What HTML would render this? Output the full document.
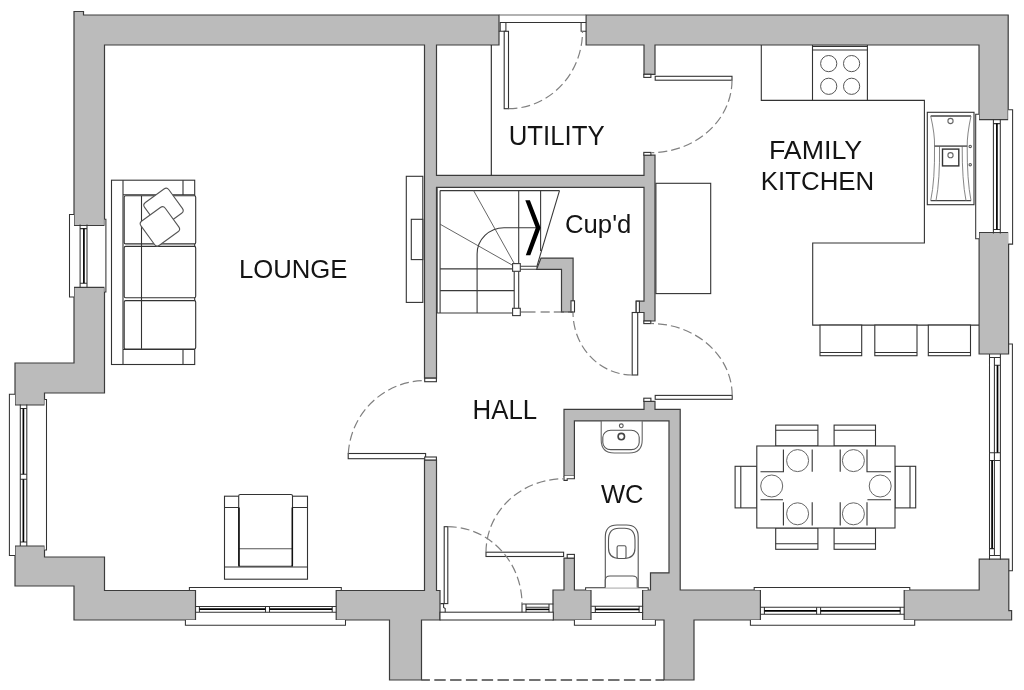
<!DOCTYPE html>
<html><head><meta charset="utf-8">
<style>
html,body{margin:0;padding:0;background:#fff;width:1024px;height:690px;overflow:hidden}
svg{display:block}
text{font-family:"Liberation Sans",sans-serif;font-size:26px;fill:#141414}
</style></head><body>
<svg width="1024" height="690" viewBox="0 0 1024 690">
<path fill="#bbbbbb" stroke="#3c3c3c" stroke-width="1.2" stroke-linejoin="miter" d="M74,45 L74,225.5 L104.5,225.5 L104.5,45 L424.5,45 L424.5,378.2 L436.5,378.2 L436.5,187.3 L644,187.3 L644,301.2 L636.2,301.2 L636.2,312.5 L644,312.5 L644,321 L655,321 L655,187.3 L655,175.3 L655,155.2 L644,155.2 L644,175.3 L436.5,175.3 L436.5,45 L499,45 L499,15 L104.5,15 L83.5,15 L83.5,11.5 L74,11.5 L74,15 L74,21 Z M573.1,258.1 L541,258.1 L536.6,269.3 L561.5,269.3 L561.5,312 L573.1,312 Z M15,363 L15,393 L15,405 L44.5,405 L44.5,393 L74,393 L104.5,393 L104.5,363 L104.5,287.3 L74,287.3 L74,363 L44.5,363 Z M564,409.3 L564,420.8 L564,476 L574.4,476 L574.4,420.8 L669,420.8 L669,572.8 L650.5,572.8 L650.5,590 L642.6,590 L642.6,620 L664,620 L664,680 L694,680 L694,620 L760.4,620 L760.4,590 L680.2,590 L680.2,572.8 L680.2,420.8 L680.2,409.3 L669,409.3 L655,409.3 L655,401.4 L644,401.4 L644,409.3 L574.4,409.3 Z M424.5,590.5 L336.2,590.5 L336.2,620 L389.5,620 L389.5,680 L421.5,680 L421.5,620 L440,620 L440,590.5 L436.5,590.5 L436.5,460 L424.5,460 Z M74,590.5 L74,620 L104.5,620 L195.5,620 L195.5,590.5 L104.5,590.5 L104.5,586 L104.5,557 L74,557 L44.5,557 L44.5,546 L15,546 L15,557 L15,586 L44.5,586 L74,586 Z M586.1,45 L644,45 L644,74.3 L655,74.3 L655,45 L979,45 L979,119.6 L1008.2,119.6 L1008.2,45 L1008.2,15 L979,15 L586.1,15 Z M979.1,232.5 L979.1,354 L1008.6,354 L1008.6,232.5 Z M564,590 L553,590 L553,620 L591,620 L591,590 L574.4,590 L574.4,558.1 L564,558.1 Z M979.2,559.2 L979.2,590 L904.2,590 L904.2,620 L1000,620 L1008.8,620 L1011.6,620 L1011.6,610.6 L1008.8,610.6 L1008.8,610 L1008.8,590 L1008.8,559.2 Z"/>
<!-- windows -->
<g fill="#fff" stroke="#333" stroke-width="1.05">
<path d="M498.8,15 H586.1" stroke="#666" stroke-width="1.2"/>
<path d="M500.2,31.3 V22.4 H586.1 M498.8,31.3 H505.9 V22.4 M581.1,22.4 V31.3 H586.1" fill="none"/>
<path d="M104.5,219.2 H105.9 V292 H104.5" fill="#fff"/>
<path d="M74,214.4 H69.5 V297 H74" fill="#fff"/>
<path d="M80.1,224.6 V287.3 M87,224.6 V287.3 M80.1,228.6 H87 M80.1,283.3 H87" fill="none"/>
<path d="M83.9,228.6 V283.3" fill="none" stroke="#000" stroke-width="1.7"/>
<path d="M44.5,399.4 H46.5 V550 H44.5" fill="#fff"/>
<path d="M15,394.3 H9.4 V555.5 H15" fill="#fff"/>
<path d="M20.3,404.5 V546 M26.8,404.5 V546 M20.3,408.5 H26.8 M20.3,542 H26.8" fill="none"/>
<path d="M20.3,474.3 H26.8 M20.3,479.3 H26.8" fill="none"/>
<path d="M23.4,408.5 V474.3 M23.4,479.3 V542" fill="none" stroke="#000" stroke-width="1.7"/>
<path d="M189.4,590 V587.4 H341.3 V590" fill="#fff"/>
<path d="M185.4,620 V625.2 H345.5 V620" fill="#fff"/>
<path d="M195.4,606.4 H336.2 M195.4,612.2 H336.2 M199.4,606.4 V612.2 M332.2,606.4 V612.2" fill="none"/>
<path d="M265.5,606.4 V612.2 M269.5,606.4 V612.2" fill="none"/>
<path d="M199.4,609.2 H265.5 M269.5,609.2 H332.2" fill="none" stroke="#000" stroke-width="1.7"/>
<path d="M585.6,590 V587.7 H648.2 V590" fill="#fff"/>
<path d="M574.4,620 V625.3 H655.4 V620" fill="#fff"/>
<path d="M591.3,606.2 H643.1 M591.3,612.4 H643.1 M595.3,606.2 V612.4 M639.1,606.2 V612.4" fill="none"/>
<path d="M595.3,609.3 H639.1" fill="none" stroke="#000" stroke-width="1.7"/>
<path d="M754.2,590 V587.4 H909.8 V590" fill="#fff"/>
<path d="M750.4,620 V625.2 H914.7 V620" fill="#fff"/>
<path d="M760.4,607.3 H904.2 M760.4,614.3 H904.2 M764.4,607.3 V614.3 M900.2,607.3 V614.3" fill="none"/>
<path d="M816.6,607.3 V614.3 M820.6,607.3 V614.3" fill="none"/>
<path d="M764.4,610.8 H816.6 M820.6,610.8 H900.2" fill="none" stroke="#000" stroke-width="1.7"/>
<path d="M979,114.2 H975.7 V238.7 H979" fill="#fff"/>
<path d="M1008.2,109.7 H1012.6 V244.1 H1008.2" fill="#fff"/>
<path d="M993.4,119.6 V233.5 M1000.3,119.6 V233.5 M993.4,123.6 H1000.3 M993.4,229.5 H1000.3" fill="none"/>
<path d="M996.9,123.6 V229.5" fill="none" stroke="#000" stroke-width="1.7"/>
<path d="M1008.7,343.9 H1012.4 V570.8 H1008.8" fill="none"/>
<path d="M989.5,354 V559.7 M1000.4,354 V559.7 M994.4,357.4 V555.4 M989.5,357.4 H1000.4 M994.4,365.2 H1000.4 M989.5,452.8 H1000.4 M989.5,460.4 H1000.4 M989.5,548.6 H994.4 M989.5,555.4 H1000.4" fill="none"/>
<path d="M997.5,365.2 V452.8 M992.1,460.4 V548.6" fill="none" stroke="#000" stroke-width="1.7"/>
<rect x="440" y="612.2" width="113.3" height="7.8"/>
<path d="M440.4,603.6 H443.6 V607.5 L445.2,608.5 V612.2" fill="none"/>
<path d="M522,612.2 V604 H553.3 M526,604 V612.2 M526,607.2 H549 M549,604 V612.2" fill="none"/>
<path d="M526,609.4 H549" fill="none" stroke="#000" stroke-width="1.5"/>
</g>
<!-- door leaves -->
<g fill="#fff" stroke="#333" stroke-width="1.1">
  <rect x="504.2" y="31.3" width="4.3" height="77.4"/>
  <rect x="655.2" y="76.3" width="76.8" height="3.9"/>
  <rect x="655.2" y="395.4" width="77" height="3.9"/>
  <rect x="632.2" y="312.5" width="5.5" height="62.5"/>
  <rect x="348.2" y="453.5" width="77.4" height="5.2"/>
  <rect x="444.2" y="526.7" width="3.6" height="76.9"/>
  <rect x="486" y="552.2" width="77.6" height="4.3"/>
  <!-- small frame stubs -->
  <rect x="643.8" y="74.3" width="7.1" height="3.1"/>
  <rect x="643.8" y="152.4" width="7.1" height="2.8"/>
  <rect x="643.8" y="321" width="7" height="2.6"/>
  <rect x="643.8" y="398.2" width="7.1" height="3.2"/>
  <rect x="636.2" y="301.2" width="3.2" height="11.3"/>
  <rect x="571" y="300.8" width="3.5" height="11.2"/>
  <rect x="424.7" y="378.2" width="11.7" height="3.5"/>
  <rect x="424.7" y="457" width="11.7" height="3"/>
  <path d="M564,476 V480.4 H567.2 V478.8 H574.4 V476" />
  <rect x="567.2" y="554.4" width="7.2" height="3.7"/>
</g>
<!-- door swings -->
<g fill="none" stroke="#808080" stroke-width="1.2" stroke-dasharray="9 4">
  <path d="M508.5,108.7 A74,77.4 0 0 0 582.5,31.3"/>
  <path d="M732,80.2 A81,72.4 0 0 1 651,152.6"/>
  <path d="M732.2,395.4 A81.5,72 0 0 0 650.7,323.5"/>
  <path d="M632.4,375 A59.4,62.6 0 0 1 573,312.4"/>
  <path d="M348.3,453.5 A77.4,77.4 0 0 1 425.6,380.6"/>
  <path d="M447.8,526.7 A74.2,77.3 0 0 1 522,604"/>
  <path d="M486,552.2 A77.6,73.4 0 0 1 563.6,478.8"/>
</g>
<path d="M491.3,45 V175.3" stroke="#222" stroke-width="1.1" fill="none"/>
<!-- porch dashed line -->
<path d="M421.5,680 H664" stroke="#444" stroke-width="1.3" stroke-dasharray="11.4 4.4" stroke-dashoffset="3" fill="none"/>

<!-- furniture -->
<g fill="#fff" stroke="#333" stroke-width="1.1">
  <!-- TV unit -->
  <rect x="406.3" y="176.3" width="16.5" height="126.1"/>
  <rect x="411.3" y="219.3" width="11.5" height="40.3"/>
  <!-- sofa -->
  <rect x="111.5" y="180.2" width="83.2" height="184.3"/>
  <path d="M123,180.2 V364.5 M123,194.8 H194.7 M183,180.2 V194.8 M123,349.5 H194.7 M183,349.5 V364.5" fill="none"/>
  <rect x="124.2" y="195.8" width="71.5" height="48.1" rx="1.5"/>
  <rect x="124.2" y="246.4" width="71.5" height="51.4" rx="1.5"/>
  <rect x="124.2" y="300.6" width="71.5" height="48.4" rx="1.5"/>
  <path d="M141.5,195.8 V348.8" fill="none"/>
  <rect x="148.5" y="192.9" width="30" height="30" rx="3.5" transform="rotate(-36 163.5 207.9)" stroke="#555"/>
  <rect x="144.9" y="211.4" width="30" height="30" rx="3.5" transform="rotate(-36 159.9 226.4)" stroke="#555"/>
  <!-- armchair -->
  <rect x="224.5" y="496.2" width="83" height="83"/>
  <path d="M224.5,507.5 H238.7 M292.5,507.5 H307.5 M224.5,567 H307.5" fill="none"/>
  <rect x="238.7" y="494.5" width="53.8" height="71.7" rx="1.5"/>
  <path d="M238.7,548.7 H292.5" fill="none" stroke="#555"/>
  <path d="M239,507.6 V566.5 M292.3,507.6 V566.5" fill="none" stroke="#111" stroke-width="1.5"/>
  <!-- kitchen counters -->
  <path d="M761.3,45 V100.4 H924.4 V243 H812.7 V325.1 H979" fill="none"/>
  <path d="M812.5,45 V100.4 M867.4,45 V100.4 M812.5,46.4 H867.4" fill="none"/>
  <path d="M812.5,50 H867.3" fill="none"/>
  <g stroke="#555" stroke-width="1">
    <circle cx="828.7" cy="63.6" r="8.1"/><circle cx="851.6" cy="63.6" r="8.1"/>
    <circle cx="828.7" cy="86.3" r="8.1"/><circle cx="851.6" cy="86.3" r="8.1"/>
  </g>
  <!-- sink -->
  <rect x="927.3" y="112.3" width="46.7" height="92.4"/>
  <path d="M930.7,116 H971" fill="none" stroke="#444" stroke-width="1.3"/>
  <path d="M930.7,200.6 H971" fill="none" stroke="#444" stroke-width="1.3"/>
  <path d="M930.7,116 Q935,135 934.5,146.1 H967.2 Q967,135 971,116" fill="none" stroke="#777" stroke-width="0.9"/>
  <path d="M934.5,146.1 Q935,180 930.7,200.6 M939.5,146.1 Q940,180 936,200.6 M967.2,146.1 Q967,180 971,200.6 M962.2,146.1 Q962,180 966,200.6" fill="none" stroke="#777" stroke-width="0.9"/>
  <path d="M934.5,146.1 H967.2" fill="none" stroke="#555" stroke-width="1.1"/>
  <rect x="942.5" y="149.1" width="16.3" height="16.8" stroke="#333" stroke-width="1.4"/>
  <circle cx="950.5" cy="155.2" r="2.6" stroke="#666"/>
  <circle cx="950.5" cy="121" r="2.6" stroke="#666"/>
  <circle cx="970.2" cy="146.4" r="1.2" stroke="#555"/>
  <circle cx="970.2" cy="164.7" r="1.2" stroke="#555"/>
  <!-- fridge / unit -->
  <rect x="655.9" y="183.3" width="54.8" height="110.3"/>
  <!-- island stools -->
  <rect x="820" y="325.1" width="41.7" height="30.6"/>
  <rect x="874.8" y="325.1" width="42.2" height="30.6"/>
  <rect x="928.3" y="325.1" width="42.2" height="30.6"/>
  <path d="M820,352.5 H861.7 M874.8,352.5 H917 M928.3,352.5 H970.5" fill="none"/>
  <!-- dining table & chairs -->
  <rect x="775.7" y="425.1" width="42.2" height="20.9"/>
  <rect x="834.1" y="425.1" width="41.4" height="20.9"/>
  <rect x="775.7" y="528" width="42.2" height="21.3"/>
  <rect x="834.1" y="528" width="41.4" height="21.3"/>
  <rect x="735.1" y="466.3" width="21.9" height="41.6"/>
  <rect x="895" y="466.3" width="20.7" height="41.6"/>
  <path d="M775.7,430.2 H817.9 M834.1,430.2 H875.5 M775.7,543.8 H817.9 M834.1,543.8 H875.5 M740.8,466.3 V507.9 M910,466.3 V507.9" fill="none"/>
  <rect x="756.8" y="446" width="138.2" height="82"/>
  <g stroke="#666" stroke-width="1">
    <circle cx="797.6" cy="460.6" r="11"/><circle cx="853.4" cy="460.6" r="11"/>
    <circle cx="771.7" cy="486" r="11"/><circle cx="880.2" cy="486" r="11"/>
    <circle cx="797.6" cy="513.8" r="11"/><circle cx="853.4" cy="513.8" r="11"/>
  </g>
  <path d="M783.4,449.5 V471.8 H760.5 M812.2,449.5 V471.8 M840.2,449.5 V471.8 M867,449.5 V471.8 H891 M760.5,499.8 H783 M783.4,502.2 V525.5 M812.2,502.2 V525.5 M840.2,502.2 V525.5 M891,499.8 H867.4 M867,502.2 V525.5" fill="none"/>
  <!-- WC basin -->
  <path d="M601.2,421 H642.2 V440 Q642.2,453 629,453 H614.4 Q601.2,453 601.2,440 Z" stroke="#666"/>
  <rect x="602.8" y="430.3" width="36.4" height="19.3" rx="8" ry="7" stroke="#555"/>
  <circle cx="621.3" cy="425.8" r="1.9" stroke="#555"/>
  <circle cx="621.3" cy="436.6" r="3.2" stroke="#444" stroke-width="1.6"/>
  <!-- toilet -->
  <path d="M605.3,587.5 V537 Q605.3,525 617,525 H626.5 Q638.2,525 638.2,537 V587.5" stroke="#555"/>
  <path d="M608.5,540 Q608.5,528.2 619,528.2 H624.5 Q635,528.2 635,540 V548 Q635,558.5 624,558.5 H619.5 Q608.5,558.5 608.5,548 Z" stroke="#555"/>
  <rect x="617.1" y="545.7" width="8.9" height="12.8" rx="1.5" stroke="#555"/>
  <path d="M605.3,587.5 V580 Q605.3,576 610,576 H632.5 Q637.2,576 637.2,580 V587.5" stroke="#555"/>
</g>
<!-- stairs -->
<g fill="none" stroke="#3a3a3a" stroke-width="1.1">
  <path d="M437.1,187.3 V313 M440.1,190.6 V313 M440.1,190.6 H559.5 M437.1,313 H512.6"/>
  <path d="M440.1,268.9 H512.6 M440.1,290.6 H514.2"/>
  <path d="M477.1,313 V254 A27,26.3 0 0 1 504,227.7 H539.6"/>
  <path d="M540.6,190.6 V251 M559.5,190.6 L536.6,267.3"/>
  <path d="M518.7,190.6 V263.6" />
  <path d="M520.3,266.3 H536.6 M520.3,269.3 H536.6 M514.2,271.3 V308.3 M518.7,271.3 V308.3"/>
  <g stroke="#555" stroke-width="0.9">
    <path d="M516.5,267.5 L440.1,224.2 M516.5,267.5 L473.6,190.6"/>
  </g>
  <rect x="512.6" y="263.6" width="7.7" height="7.7" fill="#fff"/>
  <rect x="512.6" y="308.3" width="7.7" height="7.3" fill="#fff"/>
  <path d="M520.3,312 H535.5 M540.6,312 H549.7 M553.8,312 H564 M568,312 H573" stroke="#555"/>
  <path d="M525.3,200.3 L529.9,200.3 L540.6,227.7 L530.3,255.2 L525.8,255.2 L535.8,227.7 Z" fill="#000" stroke="none"/>
</g>


<!-- labels -->
<g style="opacity:0.999">
<text transform="matrix(0.9887 0 0 1.0027 2.67 -1.06)" x="239" y="278.2">LOUNGE</text>
<text transform="matrix(0.9915 0 0 1.0300 4.05 -4.09)" x="509" y="144.5">UTILITY</text>
<text transform="matrix(1.0309 0 0 1.0222 -23.85 -3.43)" x="769" y="159.1">FAMILY</text>
<text transform="matrix(0.9941 0 0 1.0137 4.27 -2.91)" x="761" y="190.2">KITCHEN</text>
<text transform="matrix(0.9935 0 0 1.0300 3.11 -12.57)" x="472.5" y="419">HALL</text>
<text transform="matrix(0.9891 0 0 1.0000 6.66 -0.65)" x="564.5" y="234.1">Cup&#39;d</text>
<text transform="matrix(0.9833 0 0 1.0137 10.95 -7.40)" x="600" y="503.7">WC</text>
</g>

</svg>
</body></html>
